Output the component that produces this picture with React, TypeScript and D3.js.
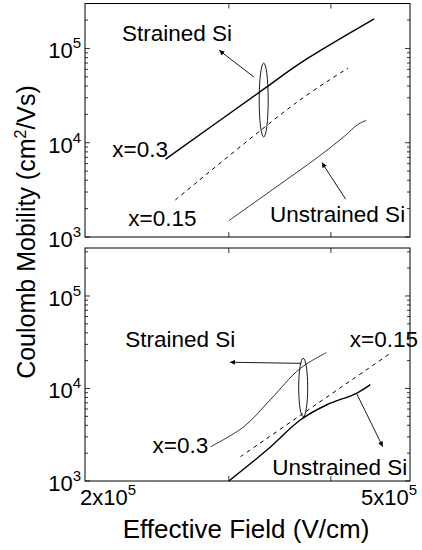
import React, { useRef, useEffect } from 'react';
import * as d3 from 'd3';

// Effective field (V/cm) on x, Coulomb mobility (cm^2/Vs) on y, both log
const xDomain = [2e5, 5e5];
const xTickMarks = [3e5, 4e5];
const xTickLabels = [
  { value: 2e5, mant: '2x10', exp: '5' },
  { value: 5e5, mant: '5x10', exp: '5' },
];
const yMajor = [1e3, 1e4, 1e5];
const yDomainTop = [1e3, 3e5];
const yDomainBottom = [1e3, 3.3e5];

// top panel
const topX03 = [[2.51e5, 6.7e3], [3.31e5, 3.7e4], [3.67e5, 7.0e4], [4.52e5, 2.06e5]];
const topX015 = [[2.58e5, 2.47e3], [3.63e5, 2.67e4], [4.2e5, 6.2e4]];
const topUnstrained = [[3.0e5, 1.49e3], [3.39e5, 3.16e3], [3.86e5, 7.08e3], [4.16e5, 1.18e4], [4.31e5, 1.55e4], [4.42e5, 1.73e4]];

// bottom panel
const bottomX03 = [[2.85e5, 2.35e3], [3.13e5, 3.86e3], [3.37e5, 7.51e3], [3.67e5, 1.65e4], [3.95e5, 2.44e4]];
const bottomX015 = [[3.1e5, 1.83e3], [3.67e5, 5.12e3], [4.73e5, 2.4e4]];
const bottomUnstrained = [[3.0e5, 1.0e3], [3.34e5, 2.16e3], [3.67e5, 4.57e3], [3.95e5, 6.63e3], [4.3e5, 8.87e3], [4.47e5, 1.1e4]];

// annotations, in data units
const topEllipse = { x: 3.31e5, y0: 1.15e4, y1: 7.0e4 };
const bottomEllipse = { x: 3.7e5, y0: 4.96e3, y1: 2.12e4 };
const topArrows = [
  [[3.22e5, 4.98e4], [2.92e5, 9.55e4]],
  [[4.17e5, 2.52e3], [3.9e5, 6.16e3]],
];
const bottomArrows = [
  [[3.68e5, 1.87e4], [3.01e5, 1.92e4]],
  [[4.3e5, 8.87e3], [4.63e5, 2.35e3]],
];
const topTexts = [
  { text: 'Strained Si', x: 2.22e5, y: 1.19e5 },
  { text: 'x=0.3', x: 2.16e5, y: 7.13e3 },
  { text: 'x=0.15', x: 2.26e5, y: 1.31e3 },
  { text: 'Unstrained Si', x: 3.37e5, y: 1.45e3 },
];
const bottomTexts = [
  { text: 'Strained Si', x: 2.24e5, y: 2.81e4 },
  { text: 'x=0.15', x: 4.22e5, y: 2.81e4 },
  { text: 'x=0.3', x: 2.42e5, y: 2.02e3 },
  { text: 'Unstrained Si', x: 3.39e5, y: 1.16e3, clip: true },
];

const panels = [
  {
    yDomain: yDomainTop,
    series: [
      { data: topX03, width: 1.4, dash: null },
      { data: topX015, width: 1, dash: '4,4' },
      { data: topUnstrained, width: 0.8, dash: null },
    ],
    ellipse: topEllipse, arrows: topArrows, texts: topTexts,
  },
  {
    yDomain: yDomainBottom,
    series: [
      { data: bottomX03, width: 0.8, dash: null },
      { data: bottomX015, width: 1, dash: '4,4' },
      { data: bottomUnstrained, width: 1.4, dash: null },
    ],
    ellipse: bottomEllipse, arrows: bottomArrows, texts: bottomTexts,
  },
];

export default function App() {
  const svgRef = useRef<SVGSVGElement>(null);

  useEffect(() => {
    const svg = d3.select(svgRef.current);
    svg.selectAll('*').remove();

    const font = '"Liberation Sans", Arial, Helvetica, sans-serif';
    const left = 85;
    const right = 410;
    const boxes = [{ top: 3.5, bottom: 237 }, { top: 248, bottom: 481 }];

    const x = d3.scaleLog().domain(xDomain).range([left, right]);

    const defs = svg.append('defs');
    defs.append('marker')
      .attr('id', 'arrow')
      .attr('viewBox', '0 0 10 10')
      .attr('refX', 10)
      .attr('refY', 5)
      .attr('markerWidth', 7)
      .attr('markerHeight', 5)
      .attr('markerUnits', 'userSpaceOnUse')
      .attr('orient', 'auto')
      .append('path')
      .attr('d', 'M0,0L10,5L0,10z')
      .attr('fill', '#000');

    panels.forEach((p, i) => {
      const box = boxes[i];
      const y = d3.scaleLog().domain(p.yDomain).range([box.bottom, box.top]);
      const g = svg.append('g');

      defs.append('clipPath').attr('id', `clip${i}`)
        .append('rect')
        .attr('x', left).attr('y', box.top)
        .attr('width', right - left).attr('height', box.bottom - box.top);

      // y ticks (major + minor), both sides
      const yt: { v: number; major: boolean }[] = [];
      yMajor.forEach(d => {
        for (let k = 1; k <= 9; k++) {
          const v = d * k;
          if (v >= p.yDomain[0] && v <= p.yDomain[1]) yt.push({ v, major: k === 1 });
        }
      });
      yt.forEach(t => {
        const len = t.major ? 5 : 3;
        g.append('line').attr('x1', left).attr('x2', left + len)
          .attr('y1', y(t.v)).attr('y2', y(t.v)).attr('stroke', '#000').attr('stroke-width', 0.8);
        g.append('line').attr('x1', right).attr('x2', right - len)
          .attr('y1', y(t.v)).attr('y2', y(t.v)).attr('stroke', '#000').attr('stroke-width', 0.8);
      });

      // x ticks, top and bottom
      xTickMarks.forEach(v => {
        g.append('line').attr('x1', x(v)).attr('x2', x(v))
          .attr('y1', box.bottom).attr('y2', box.bottom - 5).attr('stroke', '#000').attr('stroke-width', 0.8);
        g.append('line').attr('x1', x(v)).attr('x2', x(v))
          .attr('y1', box.top).attr('y2', box.top + 5).attr('stroke', '#000').attr('stroke-width', 0.8);
      });

      // y tick labels
      yMajor.forEach(v => {
        const t = g.append('text')
          .attr('x', left - 4).attr('y', y(v) + 10)
          .attr('text-anchor', 'end')
          .style('font-family', font).style('font-size', '22px').style('fill', '#000');
        t.append('tspan').text('10');
        t.append('tspan').attr('dy', -10).style('font-size', '15px').text(String(Math.round(Math.log10(v))));
      });

      // frame
      g.append('rect')
        .attr('x', left).attr('y', box.top)
        .attr('width', right - left).attr('height', box.bottom - box.top)
        .attr('fill', 'none').attr('stroke', '#000').attr('stroke-width', 1);

      // curves
      const line = d3.line<number[]>()
        .x(d => x(d[0]))
        .y(d => y(d[1]))
        .curve(d3.curveCatmullRom.alpha(0.5));
      p.series.forEach(s => {
        g.append('path')
          .attr('d', line(s.data))
          .attr('fill', 'none')
          .attr('stroke', '#000')
          .attr('stroke-width', s.width)
          .attr('stroke-dasharray', s.dash);
      });

      // ellipse
      const e = p.ellipse;
      g.append('ellipse')
        .attr('cx', x(e.x))
        .attr('cy', (y(e.y0) + y(e.y1)) / 2)
        .attr('rx', 4.5)
        .attr('ry', Math.abs(y(e.y0) - y(e.y1)) / 2)
        .attr('fill', 'none').attr('stroke', '#000').attr('stroke-width', 0.9);

      // arrows
      p.arrows.forEach(a => {
        g.append('line')
          .attr('x1', x(a[0][0])).attr('y1', y(a[0][1]))
          .attr('x2', x(a[1][0])).attr('y2', y(a[1][1]))
          .attr('stroke', '#000').attr('stroke-width', 0.9)
          .attr('marker-end', 'url(#arrow)');
      });

      // labels
      p.texts.forEach(d => {
        g.append('text')
          .attr('x', x(d.x)).attr('y', y(d.y))
          .attr('clip-path', d.clip ? `url(#clip${i})` : null)
          .style('font-family', font).style('font-size', '22.5px').style('fill', '#000')
          .text(d.text);
      });
    });

    // x tick labels (below bottom panel)
    xTickLabels.forEach((d, k) => {
      const t = svg.append('text')
        .attr('x', k === 0 ? x(d.value) - 5 : x(d.value) + 7)
        .attr('y', 505)
        .attr('text-anchor', k === 0 ? 'start' : 'end')
        .style('font-family', font).style('font-size', '22px').style('fill', '#000');
      t.append('tspan').text(d.mant);
      t.append('tspan').attr('dy', -10).style('font-size', '15px').text(d.exp);
    });

    // axis titles
    svg.append('text')
      .attr('x', 246).attr('y', 538)
      .attr('text-anchor', 'middle')
      .style('font-family', font).style('font-size', '26px').style('fill', '#000')
      .text('Effective Field (V/cm)');

    const yl = svg.append('text')
      .attr('transform', 'translate(35,232) rotate(-90)')
      .attr('text-anchor', 'middle')
      .style('font-family', font).style('font-size', '25px').style('fill', '#000');
    yl.append('tspan').text('Coulomb Mobility (cm');
    yl.append('tspan').attr('dy', -9).style('font-size', '16px').text('2');
    yl.append('tspan').attr('dy', 9).text('/Vs)');
  }, []);

  return (
    <div style={{ position: 'absolute', left: 0, top: 0, width: 422, height: 550, background: '#fff' }}>
      <svg ref={svgRef} width={422} height={550} />
    </div>
  );
}
